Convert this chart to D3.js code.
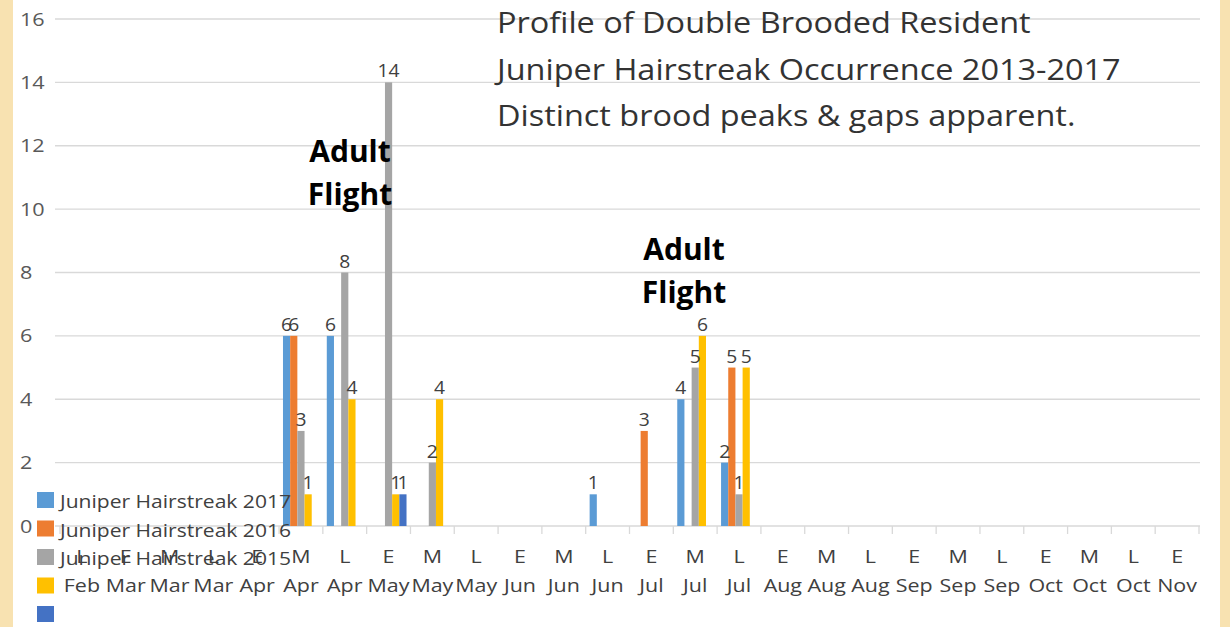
<!DOCTYPE html>
<html>
<head>
<meta charset="utf-8">
<script src="https://cdn.jsdelivr.net/npm/d3@7"></script>
<style>
  html, body { margin: 0; padding: 0; background: #f8e2b1; }
  svg { display: block; }
</style>
</head>
<body>
<svg id="chart"></svg>
<script>
const width = 1230;
const height = 627;

// category labels (two rows)
const periods = ['L','E','M','L','E','M','L','E','M','L','E','M','L','E','M','L','E','M','L','E','M','L','E','M','L','E'];
const months = ['Feb','Mar','Mar','Mar','Apr','Apr','Apr','May','May','May','Jun','Jun','Jun','Jul','Jul','Jul','Aug','Aug','Aug','Sep','Sep','Sep','Oct','Oct','Oct','Nov'];

// counts per period, one array per year (null = no record)
const y2017 = [null,null,null,null,null,6,6,null,null,null,null,null,1,null,4,2,null,null,null,null,null,null,null,null,null,null];
const y2016 = [null,null,null,null,null,6,null,null,null,null,null,null,null,3,null,5,null,null,null,null,null,null,null,null,null,null];
const y2015 = [null,null,null,null,null,3,8,14,2,null,null,null,null,null,5,1,null,null,null,null,null,null,null,null,null,null];
const y2014 = [null,null,null,null,null,1,4,1,4,null,null,null,null,null,6,5,null,null,null,null,null,null,null,null,null,null];
const y2013 = [null,null,null,null,null,null,null,1,null,null,null,null,null,null,null,null,null,null,null,null,null,null,null,null,null,null];

const seriesNames = ['Juniper Hairstreak 2017', 'Juniper Hairstreak 2016', 'Juniper Hairstreak 2015', '', ''];
const seriesColors = ['#5b9bd5', '#ed7d31', '#a5a5a5', '#ffc000', '#4472c4'];
const yTicks = [0, 2, 4, 6, 8, 10, 12, 14, 16];

const titleLines = ['Profile of Double Brooded Resident', 'Juniper Hairstreak Occurrence 2013-2017', 'Distinct brood peaks & gaps apparent.'];

const allSeries = [y2017, y2016, y2015, y2014, y2013];

const font = "'Open Sans', 'Noto Sans', sans-serif";
const svg = d3.select('#chart').attr('width', width).attr('height', height);

// the source picture is a bit wider than tall, so text gets a horizontal stretch
function stretched(sel, fx, fy, sx) {
  return sel.attr('transform', (d, i) => `translate(${fx(d, i)},${fy(d, i)}) scale(${sx},1)`);
}

// white card
svg.append('rect').attr('x', 13).attr('y', 0).attr('width', 1207).attr('height', height).attr('fill', '#fff');

const idx = d3.range(months.length);
const x = d3.scaleBand().domain(idx).range([60, 1199]).paddingInner(0.18).paddingOuter(0.09);
const xs = d3.scaleBand().domain(d3.range(allSeries.length)).range([0, x.bandwidth()]);
const y = d3.scaleLinear().domain([0, 16]).range([526, 19]);
const step = x.step();

// gridlines
svg.append('g').selectAll('line').data(yTicks).join('line')
  .attr('x1', 55).attr('x2', 1200)
  .attr('y1', d => y(d)).attr('y2', d => y(d))
  .attr('stroke', '#d9d9d9').attr('stroke-width', 1.3);

// y labels
stretched(svg.append('g').selectAll('text').data(yTicks).join('text'),
    () => 20, d => y(d) + 6.5, 1.2)
  .attr('font-family', font).attr('font-size', 18).attr('fill', '#595959')
  .text(d => d);

// category tick marks between bands
svg.append('g').selectAll('line').data(d3.range(months.length + 1)).join('line')
  .attr('x1', d => 60 + d * step).attr('x2', d => 60 + d * step)
  .attr('y1', y(0)).attr('y2', y(0) + 8)
  .attr('stroke', '#d9d9d9').attr('stroke-width', 1.3);

// title
stretched(svg.append('g').selectAll('text').data(titleLines).join('text'),
    () => 497, (d, i) => 33 + i * 46.5, 1.1)
  .attr('font-family', font).attr('font-size', 29.5).attr('fill', '#333')
  .text(d => d);

// bars
const groups = svg.append('g').selectAll('g').data(allSeries).join('g')
  .attr('fill', (d, i) => seriesColors[i]);

groups.each(function(vals, s) {
  const pts = vals.map((v, i) => ({ i, v })).filter(d => d.v != null);
  d3.select(this).selectAll('rect').data(pts).join('rect')
    .attr('x', d => x(d.i) + xs(s))
    .attr('width', xs.bandwidth())
    .attr('y', d => y(d.v))
    .attr('height', d => y(0) - y(d.v));
});

// data labels
groups.each(function(vals, s) {
  const pts = vals.map((v, i) => ({ i, v })).filter(d => d.v != null);
  stretched(svg.append('g').selectAll('text').data(pts).join('text'),
      d => x(d.i) + xs(s) + xs.bandwidth() / 2, d => y(d.v) - 5, 1.07)
    .attr('text-anchor', 'middle')
    .attr('font-family', font).attr('font-size', 18).attr('fill', '#404040')
    .text(d => d.v);
});

// x labels, two rows
stretched(svg.append('g').selectAll('text').data(idx).join('text'),
    d => x(d) + x.bandwidth() / 2, () => 563, 1.16)
  .attr('text-anchor', 'middle')
  .attr('font-family', font).attr('font-size', 18.5).attr('fill', '#404040')
  .text(d => periods[d]);

stretched(svg.append('g').selectAll('text').data(idx).join('text'),
    d => x(d) + x.bandwidth() / 2, () => 592, 1.16)
  .attr('text-anchor', 'middle')
  .attr('font-family', font).attr('font-size', 18.5).attr('fill', '#404040')
  .text(d => months[d]);

// legend
const legend = svg.append('g').selectAll('g').data(seriesNames).join('g')
  .attr('transform', (d, i) => `translate(37, ${492 + i * 28.5})`);
legend.append('rect').attr('width', 17).attr('height', 16).attr('fill', (d, i) => seriesColors[i]);
legend.append('text')
  .attr('transform', 'translate(23,16) scale(1.17,1)')
  .attr('font-family', font).attr('font-size', 18).attr('fill', '#404040')
  .text(d => d);

// annotations
const notes = [
  { text: 'Adult', x: 350, y: 162 }, { text: 'Flight', x: 350, y: 205 },
  { text: 'Adult', x: 684, y: 260 }, { text: 'Flight', x: 684, y: 303 }
];
svg.append('g').selectAll('text').data(notes).join('text')
  .attr('x', d => d.x).attr('y', d => d.y)
  .attr('text-anchor', 'middle')
  .attr('font-family', font).attr('font-size', 30).attr('font-weight', 'bold').attr('fill', '#000')
  .text(d => d.text);
</script>
</body>
</html>
